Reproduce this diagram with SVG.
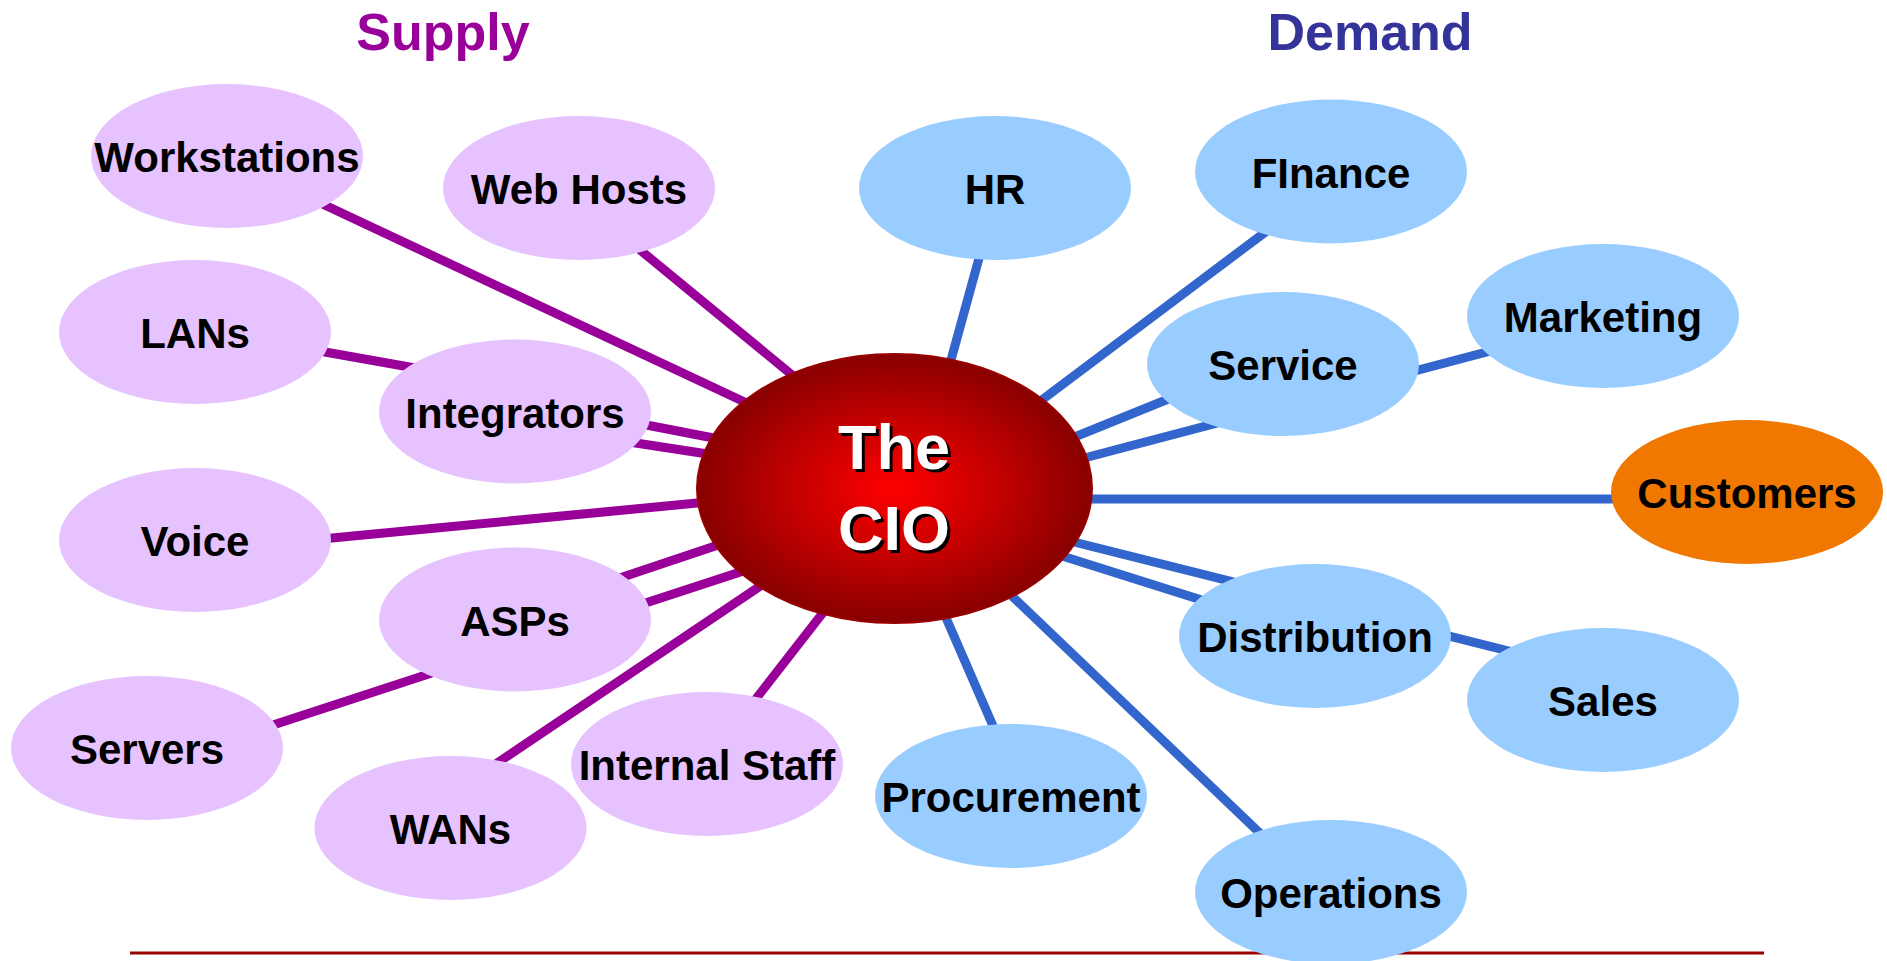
<svg xmlns="http://www.w3.org/2000/svg" width="1887" height="961" viewBox="0 0 1887 961">
<style>
.sup{fill:#E6C2FF}
.dem{fill:#99CCFF}
.lbl{font-family:"Liberation Sans",Arial,sans-serif;font-weight:bold;font-size:42px;fill:#000;text-anchor:middle}
.head{font-family:"Liberation Sans",Arial,sans-serif;font-weight:bold;font-size:52px;text-anchor:middle}
.pl{stroke:#990099;stroke-width:9;fill:none}
.bl{stroke:#3366CC;stroke-width:9;fill:none}
.cio{font-family:"Liberation Sans",Arial,sans-serif;font-weight:bold;font-size:63px;text-anchor:middle}
</style>
<defs>
<radialGradient id="cioGrad" cx="50%" cy="50%" r="50%">
<stop offset="0%" stop-color="#FF0000"/>
<stop offset="55%" stop-color="#C00000"/>
<stop offset="100%" stop-color="#880000"/>
</radialGradient>
</defs>
<rect width="1887" height="961" fill="#FFFFFF"/>
<text class="head" x="443" y="50" fill="#990099">Supply</text>
<text class="head" x="1370" y="50" fill="#333399">Demand</text>
<line x1="130" y1="953" x2="1764" y2="953" stroke="#990000" stroke-width="3"/>
<g id="connectors">
<line class="pl" x1="250" y1="170" x2="800" y2="428"/>
<line class="pl" x1="600" y1="217" x2="820" y2="398"/>
<line class="pl" x1="280" y1="344" x2="460" y2="376"/>
<line class="pl" x1="600" y1="416" x2="760" y2="447"/>
<line class="pl" x1="590" y1="436" x2="760" y2="462"/>
<line class="pl" x1="290" y1="542" x2="760" y2="497"/>
<line class="pl" x1="560" y1="598" x2="760" y2="531"/>
<line class="pl" x1="230" y1="739" x2="780" y2="559"/>
<line class="pl" x1="460" y1="788" x2="790" y2="566"/>
<line class="pl" x1="720" y1="745" x2="850" y2="578"/>
<line class="bl" x1="995" y1="200" x2="940" y2="400"/>
<line class="bl" x1="1300" y1="206" x2="1010" y2="424"/>
<line class="bl" x1="1240" y1="370" x2="1040" y2="451"/>
<line class="bl" x1="1540" y1="338" x2="1050" y2="467"/>
<line class="bl" x1="1050" y1="499" x2="1640" y2="499"/>
<line class="bl" x1="1050" y1="536" x2="1560" y2="664"/>
<line class="bl" x1="1040" y1="549" x2="1300" y2="631"/>
<line class="bl" x1="1010" y1="765" x2="930" y2="581"/>
<line class="bl" x1="990" y1="575" x2="1290" y2="862"/>
</g>
<g id="cio">
<ellipse cx="894.5" cy="488.5" rx="197.5" ry="134.5" fill="url(#cioGrad)" stroke="#990000" stroke-width="2"/>
<text class="cio" x="897" y="472" fill="#000">The</text>
<text class="cio" x="894" y="469" fill="#FFF">The</text>
<text class="cio" x="897" y="553" fill="#000">CIO</text>
<text class="cio" x="894" y="550" fill="#FFF">CIO</text>
</g>
<g id="workstations"><ellipse class="sup" cx="227" cy="156" rx="136" ry="72"/><text class="lbl" x="227" y="172">Workstations</text></g>
<g id="webhosts"><ellipse class="sup" cx="579" cy="188" rx="136" ry="72"/><text class="lbl" x="579" y="204">Web Hosts</text></g>
<g id="lans"><ellipse class="sup" cx="195" cy="332" rx="136" ry="72"/><text class="lbl" x="195" y="348">LANs</text></g>
<g id="integrators"><ellipse class="sup" cx="515" cy="411.5" rx="136" ry="72"/><text class="lbl" x="515" y="428">Integrators</text></g>
<g id="voice"><ellipse class="sup" cx="195" cy="540" rx="136" ry="72"/><text class="lbl" x="195" y="556">Voice</text></g>
<g id="asps"><ellipse class="sup" cx="515" cy="619.5" rx="136" ry="72"/><text class="lbl" x="515" y="636">ASPs</text></g>
<g id="servers"><ellipse class="sup" cx="147" cy="748" rx="136" ry="72"/><text class="lbl" x="147" y="764">Servers</text></g>
<g id="wans"><ellipse class="sup" cx="450.5" cy="828" rx="136" ry="72"/><text class="lbl" x="450.5" y="844">WANs</text></g>
<g id="internalstaff"><ellipse class="sup" cx="707" cy="764" rx="136" ry="72"/><text class="lbl" x="707" y="780">Internal Staff</text></g>
<g id="hr"><ellipse class="dem" cx="995" cy="188" rx="136" ry="72"/><text class="lbl" x="995" y="204">HR</text></g>
<g id="finance"><ellipse class="dem" cx="1331" cy="171.5" rx="136" ry="72"/><text class="lbl" x="1331" y="188">FInance</text></g>
<g id="service"><ellipse class="dem" cx="1283" cy="364" rx="136" ry="72"/><text class="lbl" x="1283" y="380">Service</text></g>
<g id="marketing"><ellipse class="dem" cx="1603" cy="316" rx="136" ry="72"/><text class="lbl" x="1603" y="332">Marketing</text></g>
<g id="customers"><ellipse cx="1747" cy="492" rx="136" ry="72" fill="#F07700"/><text class="lbl" x="1747" y="508">Customers</text></g>
<g id="distribution"><ellipse class="dem" cx="1315" cy="636" rx="136" ry="72"/><text class="lbl" x="1315" y="652">Distribution</text></g>
<g id="sales"><ellipse class="dem" cx="1603" cy="700" rx="136" ry="72"/><text class="lbl" x="1603" y="716">Sales</text></g>
<g id="procurement"><ellipse class="dem" cx="1011" cy="796" rx="136" ry="72"/><text class="lbl" x="1011" y="812">Procurement</text></g>
<g id="operations"><ellipse class="dem" cx="1331" cy="892" rx="136" ry="72"/><text class="lbl" x="1331" y="908">Operations</text></g>
</svg>
